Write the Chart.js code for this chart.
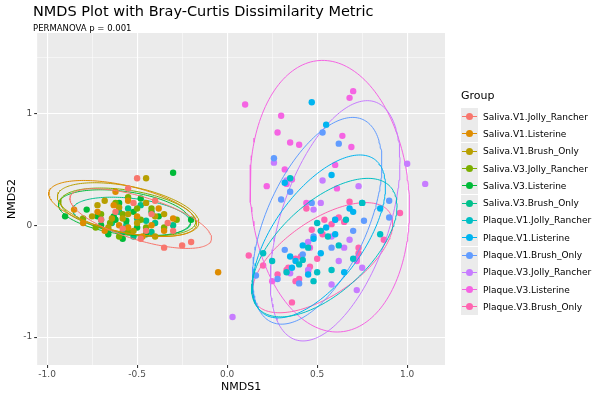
<!DOCTYPE html>
<html lang="en">
<head>
<meta charset="UTF-8" />
<title>NMDS Plot</title>
<script src="https://cdn.jsdelivr.net/npm/chart.js"></script>
<style>
  body { margin: 0; font-family: "DejaVu Sans", sans-serif; background: #fff; }
  #wrap { position: relative; width: 600px; height: 400px; }
  #title { position: absolute; left: 33px; top: 3px; font-size: 14.5px; color: #000; }
  #sub { position: absolute; left: 33px; top: 23px; font-size: 8.5px; color: #000; }
  #legend { position: absolute; left: 461px; top: 89px; font-size: 9px; color: #000; }
  #legend .t { font-size: 11px; margin-bottom: 6px; }
  #legend .row { display: flex; align-items: center; height: 17.3px; }
  #legend .key { width: 17px; height: 17px; background: #ebebeb; position: relative; margin-right: 5px; }
  #legend .key .ln { position: absolute; left: 1px; right: 1px; top: 8px; height: 1px; }
  #legend .key .dt { position: absolute; left: 5px; top: 5px; width: 7px; height: 7px; border-radius: 50%; }
  canvas { position: absolute; left: 0; top: 0; }
</style>
</head>
<body>
<div id="wrap">
  <canvas id="c" width="600" height="400"></canvas>
  <div id="title">NMDS Plot with Bray-Curtis Dissimilarity Metric</div>
  <div id="sub">PERMANOVA p = 0.001</div>
  <div id="legend"><div class="t">Group</div></div>
</div>
<script>
const groups = ['Saliva.V1.Jolly_Rancher','Saliva.V1.Listerine','Saliva.V1.Brush_Only',
  'Saliva.V3.Jolly_Rancher','Saliva.V3.Listerine','Saliva.V3.Brush_Only',
  'Plaque.V1.Jolly_Rancher','Plaque.V1.Listerine','Plaque.V1.Brush_Only',
  'Plaque.V3.Jolly_Rancher','Plaque.V3.Listerine','Plaque.V3.Brush_Only'];
const colors = ['#F8766D','#DE8C00','#B79F00','#7CAE00','#00BA38','#00C08B',
  '#00BFC4','#00B4F0','#619CFF','#C77CFF','#F564E3','#FF64B0'];

// points per group [x, y]
const pts0 = [[-0.5,0.42],[-0.55,0.33],[-0.42,0.1],[-0.3,-0.05],[-0.62,0.12],[-0.48,-0.12],[-0.35,-0.2],[-0.25,-0.18],[-0.7,0.05],[-0.58,-0.03],[-0.4,0.22],[-0.2,-0.15],[-0.52,0.2],[-0.45,-0.05],[-0.33,0.02]];
const pts1 = [[-0.05,-0.42],[-0.85,0.14],[-0.8,0.02],[-0.62,0.3],[-0.55,0.22],[-0.5,0.08],[-0.42,0.0],[-0.68,-0.05],[-0.38,0.15],[-0.3,0.06],[-0.6,0.0],[-0.72,0.12],[-0.47,-0.1],[-0.55,-0.02],[-0.63,0.18],[-0.35,-0.05]];
const pts2 = [[-0.45,0.42],[-0.68,0.22],[-0.55,0.1],[-0.5,0.02],[-0.75,0.08],[-0.4,0.08],[-0.6,0.16],[-0.66,-0.02],[-0.52,-0.05],[-0.35,0.1],[-0.72,0.18],[-0.45,0.2],[-0.58,0.06],[-0.4,-0.1],[-0.64,0.06]];
const pts3 = [[-0.62,0.2],[-0.58,0.1],[-0.7,0.1],[-0.48,0.05],[-0.55,-0.06],[-0.8,0.06],[-0.42,0.15],[-0.65,0.02],[-0.5,0.15],[-0.35,-0.02],[-0.6,-0.1],[-0.73,-0.02],[-0.45,-0.02],[-0.28,0.05],[-0.55,0.25]];
const pts4 = [[-0.3,0.47],[-0.9,0.08],[-0.78,0.14],[-0.7,0.0],[-0.63,0.08],[-0.56,0.04],[-0.5,-0.02],[-0.42,0.12],[-0.45,-0.08],[-0.66,-0.08],[-0.6,0.2],[-0.52,0.12],[-0.38,0.08],[-0.72,0.08],[-0.58,-0.12],[-0.2,0.05],[-0.48,0.24],[-0.62,0.05]];
const pts5 = [[-0.6,0.12],[-0.56,0.0],[-0.5,0.06],[-0.64,0.02],[-0.45,0.04],[-0.58,-0.06],[-0.52,-0.1],[-0.4,0.02],[-0.7,0.05],[-0.66,-0.04],[-0.48,0.18],[-0.3,0.0],[-0.55,0.15],[-0.42,-0.06]];
const pts6 = [[0.35,0.42],[0.52,-0.05],[0.5,0.02],[0.56,-0.1],[0.45,-0.2],[0.42,-0.31],[0.5,-0.42],[0.33,-0.42],[0.2,-0.25],[0.25,-0.32],[0.62,-0.18],[0.7,-0.3],[0.66,0.05],[0.75,0.2],[0.48,-0.5],[0.4,-0.35],[0.85,-0.08],[0.58,-0.4]];
const pts7 = [[0.47,1.1],[0.38,-0.32],[0.35,-0.28],[0.42,-0.18],[0.48,-0.12],[0.55,-0.02],[0.6,0.05],[0.6,-0.08],[0.68,0.15],[0.75,0.2],[0.45,-0.44],[0.65,-0.42],[0.55,0.9],[0.58,0.45],[0.85,0.15],[0.7,0.12],[0.32,0.38],[0.52,-0.25],[0.36,-0.38]];
const pts8 = [[0.26,0.6],[0.53,0.83],[0.62,0.73],[0.35,0.3],[0.3,0.23],[0.47,0.2],[0.48,-0.1],[0.32,-0.22],[0.28,-0.48],[0.42,-0.26],[0.58,-0.2],[0.7,-0.05],[0.76,0.04],[0.9,0.22],[0.9,0.07],[0.16,-0.45],[0.4,-0.52]];
const pts9 = [[0.26,0.56],[0.53,0.4],[0.73,0.35],[1.1,0.37],[1.0,0.55],[0.48,0.14],[0.52,0.2],[0.6,0.05],[0.58,-0.1],[0.45,-0.15],[0.68,-0.13],[0.52,-0.05],[0.62,-0.32],[0.75,-0.38],[0.45,-0.4],[0.35,-0.43],[0.58,-0.53],[0.72,-0.58],[0.03,-0.82],[0.33,0.4],[0.65,-0.2]];
const pts10 = [[0.1,1.08],[0.3,0.98],[0.28,0.83],[0.35,0.74],[0.4,0.72],[0.7,1.2],[0.68,1.14],[0.64,0.8],[0.69,0.7],[0.6,0.54],[0.32,0.5],[0.36,0.41],[0.33,0.37],[0.44,0.2],[0.61,0.33],[0.46,-0.2],[0.25,-0.5],[0.72,-0.3],[0.72,-0.32],[0.22,0.35]];
const pts11 = [[0.12,-0.27],[0.5,-0.3],[0.38,-0.3],[0.41,-0.28],[0.46,-0.37],[0.45,-0.41],[0.34,-0.38],[0.4,-0.48],[0.28,-0.44],[0.33,-0.4],[0.62,0.07],[0.65,0.03],[0.72,-0.3],[0.73,-0.25],[0.54,0.05],[0.58,0.01],[0.68,0.21],[0.96,0.11],[0.44,0.15],[0.47,-0.04],[0.53,-0.08],[0.36,-0.69],[0.38,-0.5],[0.87,-0.13],[0.2,-0.36],[0.73,-0.2]];
const points = [pts0,pts1,pts2,pts3,pts4,pts5,pts6,pts7,pts8,pts9,pts10,pts11];

// ellipse parameters per group: centre (data), semi-axes (NMDS1 units), on-screen rotation
const ellCx = [-0.48,-0.58,-0.55,-0.55,-0.57,-0.53, 0.54,0.51,0.50,0.60,0.57,0.53];
const ellCy = [0.06,0.15,0.14,0.12,0.11,0.08, -0.2,-0.1,0.04,0.04,0.26,-0.29];
const ellA  = [0.41,0.42,0.40,0.38,0.37,0.33, 0.50,0.53,0.62,0.70,0.76,0.45];
const ellB  = [0.12,0.13,0.13,0.12,0.12,0.1, 0.25,0.25,0.28,0.30,0.44,0.21];
const ellRot = [-0.3,-0.22,-0.2,-0.16,-0.14,-0.12, 0.75,0.95,1.15,1.25,1.65,0.6];
const yPerX = 181 / 113; // NMDS2 units per NMDS1 unit on screen

const xTicks = [-1,-0.75,-0.5,-0.25,0,0.25,0.5,0.75,1];
const yTicks = [-1,-0.5,0,0.5,1,1.5];

function ellipse(i) {
  const out = [];
  const c = Math.cos(ellRot[i]), s = Math.sin(ellRot[i]);
  for (let k = 0; k <= 180; k++) {
    const t = k / 180 * 2 * Math.PI;
    const u = ellA[i] * Math.cos(t), v = ellB[i] * Math.sin(t);
    out.push({ x: ellCx[i] + u * c - v * s, y: ellCy[i] + (u * s + v * c) * yPerX });
  }
  return out;
}

const datasets = [];
groups.forEach((g, i) => {
  datasets.push({ type: 'scatter', label: g, data: points[i].map(p => ({ x: p[0], y: p[1] })),
    backgroundColor: colors[i], borderWidth: 0, pointRadius: 3.2 });
  datasets.push({ type: 'line', label: g + ' ellipse', data: ellipse(i), borderColor: colors[i],
    borderWidth: 1, pointRadius: 0, fill: false, tension: 0 });
});

const panelBg = {
  id: 'panelBg',
  beforeDraw(chart) {
    const a = chart.chartArea, ctx = chart.ctx;
    ctx.save(); ctx.fillStyle = '#EBEBEB';
    ctx.fillRect(a.left, a.top, a.right - a.left, a.bottom - a.top); ctx.restore();
  }
};

const isMajor = v => Math.abs(v * 2 - Math.round(v * 2)) < 1e-6;
const isMajorY = v => Math.abs(v - Math.round(v)) < 1e-6;

new Chart(document.getElementById('c'), {
  data: { datasets },
  options: {
    responsive: false, animation: false,
    layout: { padding: { top: 33, right: 155, left: 2, bottom: 2 } },
    plugins: { legend: { display: false }, tooltip: { enabled: false } },
    scales: {
      x: { type: 'linear', min: -1.055, max: 1.21,
        afterBuildTicks: s => { s.ticks = xTicks.map(v => ({ value: v })); },
        grid: { color: '#fff', lineWidth: c => isMajor(c.tick.value) ? 1.1 : 0.5, tickLength: 3,
          tickColor: c => isMajor(c.tick.value) ? '#333' : 'rgba(0,0,0,0)' },
        border: { display: false },
        ticks: { color: '#4d4d4d', font: { size: 9, family: 'DejaVu Sans' }, padding: 1, maxRotation: 0,
          callback: v => isMajor(v) ? v.toFixed(1) : '' },
        title: { display: true, text: 'NMDS1', color: '#000', font: { size: 11, family: 'DejaVu Sans' }, padding: { top: 0 } } },
      y: { type: 'linear', min: -1.25, max: 1.72,
        afterBuildTicks: s => { s.ticks = yTicks.map(v => ({ value: v })); },
        grid: { color: '#fff', lineWidth: c => isMajorY(c.tick.value) ? 1.1 : 0.5, tickLength: 3,
          tickColor: c => isMajorY(c.tick.value) ? '#333' : 'rgba(0,0,0,0)' },
        border: { display: false },
        ticks: { color: '#4d4d4d', font: { size: 9, family: 'DejaVu Sans' }, padding: 2,
          callback: v => isMajorY(v) ? String(v) : '' },
        title: { display: true, text: 'NMDS2', color: '#000', font: { size: 11, family: 'DejaVu Sans' }, padding: { bottom: 2 } } }
    }
  },
  plugins: [panelBg]
});

const leg = document.getElementById('legend');
groups.forEach((g, i) => {
  const r = document.createElement('div'); r.className = 'row';
  r.innerHTML = '<div class="key"><div class="ln" style="background:' + colors[i] + '"></div><div class="dt" style="background:' + colors[i] + '"></div></div><span></span>';
  r.querySelector('span').textContent = g;
  leg.appendChild(r);
});
</script>
</body>
</html>
